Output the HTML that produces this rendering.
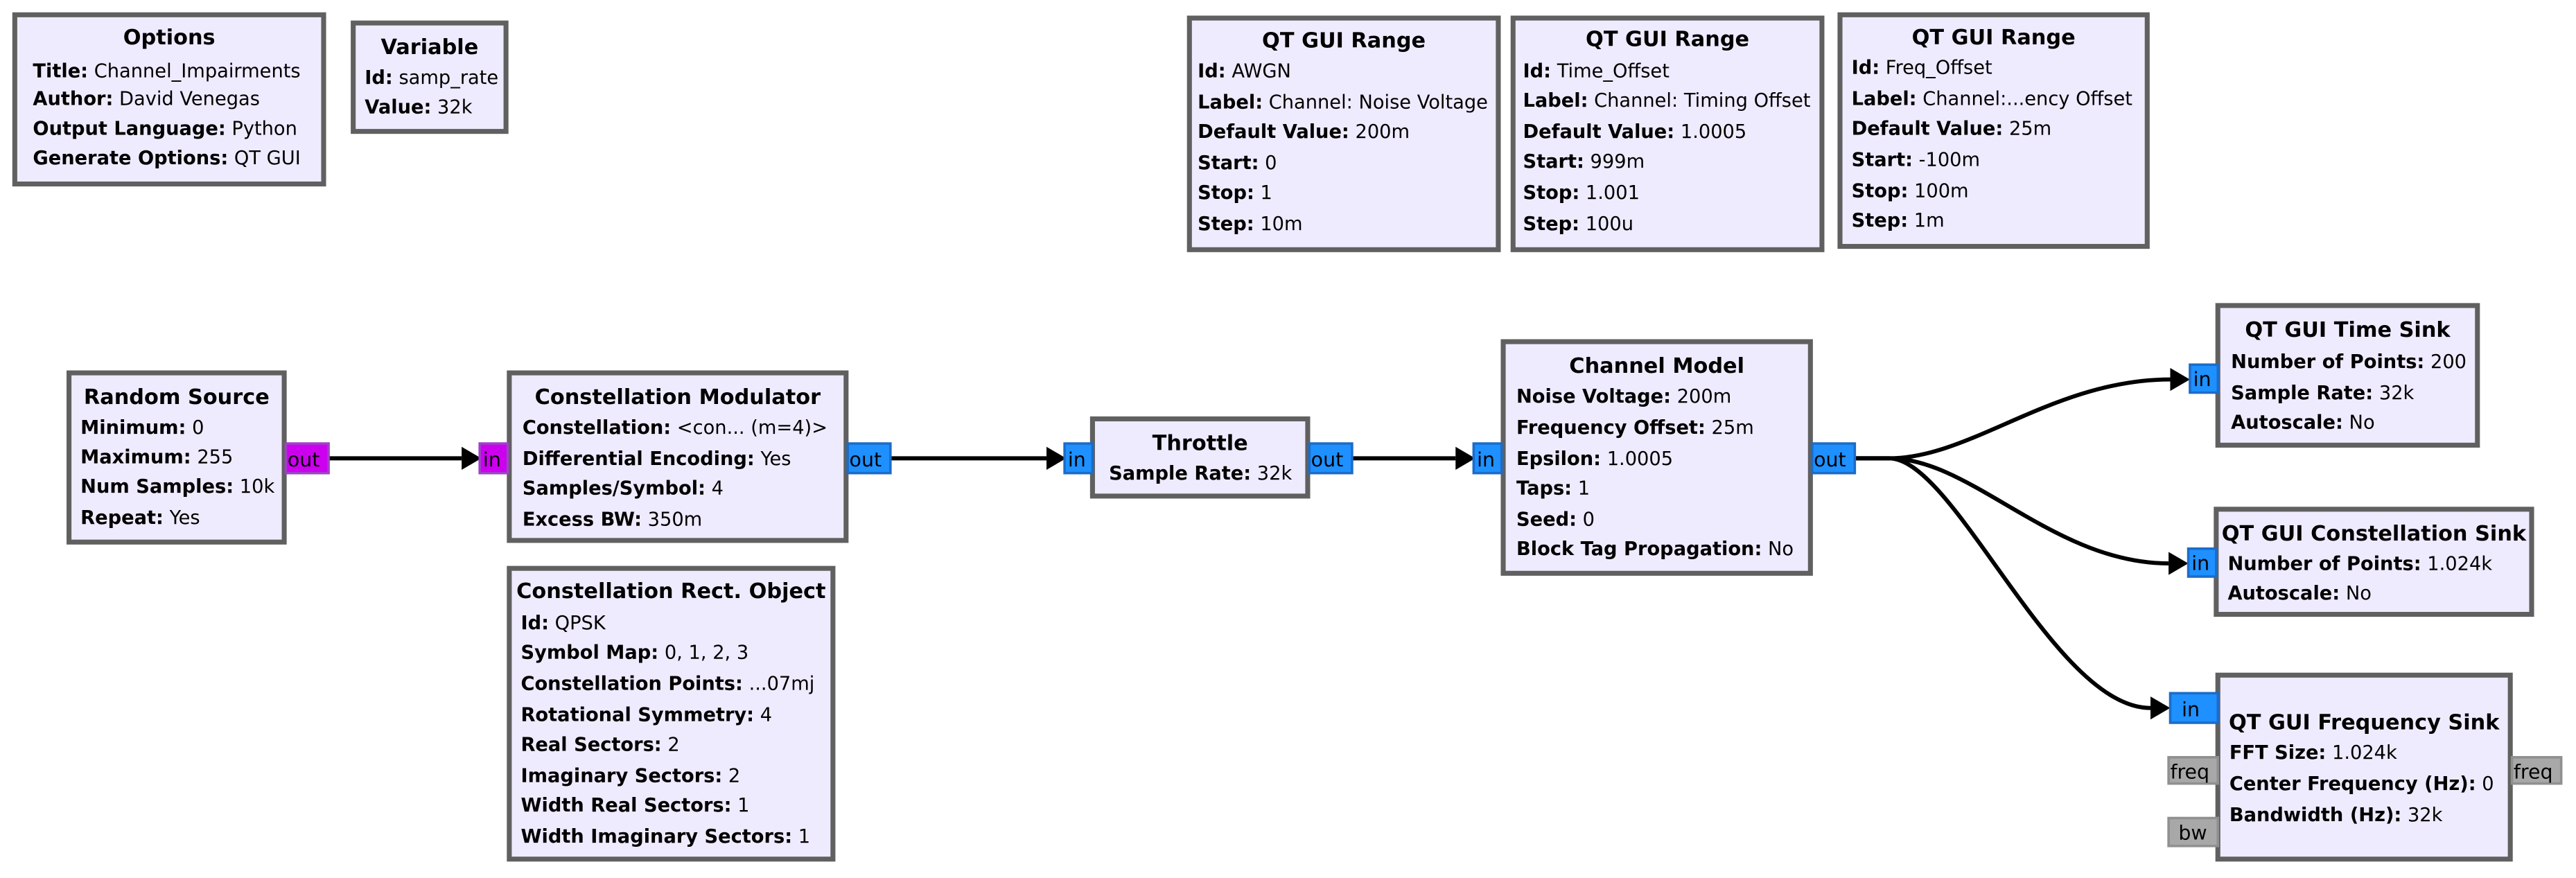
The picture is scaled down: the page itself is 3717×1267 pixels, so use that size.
<!DOCTYPE html>
<html><head><meta charset="utf-8"><style>
html,body{margin:0;padding:0;background:#fff;}
svg{display:block;}
text{font-family:"DejaVu Sans","Liberation Sans",sans-serif;font-size:11.5px;fill:#000;}
.t{font-weight:bold;font-size:12.8px;text-anchor:middle;}
.b{font-weight:bold;}
.box{fill:#efebfe;stroke:#606060;stroke-width:3;}
.pm{fill:#cc00ee;stroke:#a040c8;stroke-width:1.5;}
.pb{fill:#1e90ff;stroke:#1c6cc8;stroke-width:1.5;}
.pg{fill:#a8a8a8;stroke:#909090;stroke-width:1.5;}
.pl{font-size:12px;}
.w{fill:none;stroke:#000;stroke-width:2.5;}
</style></head><body>
<svg width="3717" height="1267" viewBox="0 0 1568 534.5" preserveAspectRatio="none" xmlns="http://www.w3.org/2000/svg">
<!-- Options -->
<rect class="box" x="9" y="9" width="188" height="103"/>
<text class="t" x="103" y="27">Options</text>
<text x="20" y="47"><tspan class="b">Title:</tspan> Channel_Impairments</text>
<text x="20" y="64"><tspan class="b">Author:</tspan> David Venegas</text>
<text x="20" y="82"><tspan class="b">Output Language:</tspan> Python</text>
<text x="20" y="100"><tspan class="b">Generate Options:</tspan> QT GUI</text>
<!-- Variable -->
<rect class="box" x="215" y="14" width="93" height="66"/>
<text class="t" x="261.5" y="33">Variable</text>
<text x="222" y="51"><tspan class="b">Id:</tspan> samp_rate</text>
<text x="222" y="69"><tspan class="b">Value:</tspan> 32k</text>
<!-- Ranges -->
<rect class="box" x="724" y="11" width="188" height="141"/>
<text class="t" x="818" y="29">QT GUI Range</text>
<text x="729" y="47"><tspan class="b">Id:</tspan> AWGN</text>
<text x="729" y="66"><tspan class="b">Label:</tspan> Channel: Noise Voltage</text>
<text x="729" y="84"><tspan class="b">Default Value:</tspan> 200m</text>
<text x="729" y="103"><tspan class="b">Start:</tspan> 0</text>
<text x="729" y="121"><tspan class="b">Stop:</tspan> 1</text>
<text x="729" y="140"><tspan class="b">Step:</tspan> 10m</text>

<rect class="box" x="921" y="11" width="188" height="141"/>
<text class="t" x="1015" y="28">QT GUI Range</text>
<text x="927" y="47"><tspan class="b">Id:</tspan> Time_Offset</text>
<text x="927" y="65"><tspan class="b">Label:</tspan> Channel: Timing Offset</text>
<text x="927" y="84"><tspan class="b">Default Value:</tspan> 1.0005</text>
<text x="927" y="102"><tspan class="b">Start:</tspan> 999m</text>
<text x="927" y="121"><tspan class="b">Stop:</tspan> 1.001</text>
<text x="927" y="140"><tspan class="b">Step:</tspan> 100u</text>

<rect class="box" x="1120" y="9" width="187" height="141"/>
<text class="t" x="1213.5" y="27">QT GUI Range</text>
<text x="1127" y="45"><tspan class="b">Id:</tspan> Freq_Offset</text>
<text x="1127" y="64"><tspan class="b">Label:</tspan> Channel:...ency Offset</text>
<text x="1127" y="82"><tspan class="b">Default Value:</tspan> 25m</text>
<text x="1127" y="101"><tspan class="b">Start:</tspan> -100m</text>
<text x="1127" y="120"><tspan class="b">Stop:</tspan> 100m</text>
<text x="1127" y="138"><tspan class="b">Step:</tspan> 1m</text>

<!-- connections -->
<path class="w" d="M200 279 H281"/><polygon points="281,272 293,279 281,286"/>
<path class="w" d="M542 279 H637"/><polygon points="637,272 649,279 637,286"/>
<path class="w" d="M823 279 H886"/><polygon points="886,272 898,279 886,286"/>
<path class="w" d="M1129 279 H1150 C1200 279 1250 231 1321 231"/><polygon points="1321,224 1333,231 1321,238"/>
<path class="w" d="M1129 279 H1150 C1200 279 1250 343 1320 343"/><polygon points="1320,336 1332,343 1320,350"/>
<path class="w" d="M1129 279 H1150 C1190 279 1250 431 1309 431"/><polygon points="1309,424 1321,431 1309,438"/>

<!-- Random Source -->
<rect class="box" x="42" y="227" width="131" height="103"/>
<text class="t" x="107.5" y="246">Random Source</text>
<text x="49" y="264"><tspan class="b">Minimum:</tspan> 0</text>
<text x="49" y="282"><tspan class="b">Maximum:</tspan> 255</text>
<text x="49" y="300"><tspan class="b">Num Samples:</tspan> 10k</text>
<text x="49" y="319"><tspan class="b">Repeat:</tspan> Yes</text>
<rect class="pm" x="174" y="270" width="26" height="18"/><text class="pl" x="175" y="284">out</text>

<!-- Constellation Modulator -->
<rect class="box" x="310" y="227" width="205" height="102"/>
<text class="t" x="412.5" y="246">Constellation Modulator</text>
<text x="318" y="264"><tspan class="b">Constellation:</tspan> &lt;con... (m=4)&gt;</text>
<text x="318" y="283"><tspan class="b">Differential Encoding:</tspan> Yes</text>
<text x="318" y="301"><tspan class="b">Samples/Symbol:</tspan> 4</text>
<text x="318" y="320"><tspan class="b">Excess BW:</tspan> 350m</text>
<rect class="pm" x="292" y="270" width="17" height="18"/><text class="pl" x="294" y="284">in</text>
<rect class="pb" x="516" y="270" width="26" height="18"/><text class="pl" x="517" y="284">out</text>

<!-- Constellation Rect Object -->
<rect class="box" x="310" y="346" width="197" height="177"/>
<text class="t" x="408.5" y="364">Constellation Rect. Object</text>
<text x="317" y="383"><tspan class="b">Id:</tspan> QPSK</text>
<text x="317" y="401"><tspan class="b">Symbol Map:</tspan> 0, 1, 2, 3</text>
<text x="317" y="420"><tspan class="b">Constellation Points:</tspan> ...07mj</text>
<text x="317" y="439"><tspan class="b">Rotational Symmetry:</tspan> 4</text>
<text x="317" y="457"><tspan class="b">Real Sectors:</tspan> 2</text>
<text x="317" y="476"><tspan class="b">Imaginary Sectors:</tspan> 2</text>
<text x="317" y="494"><tspan class="b">Width Real Sectors:</tspan> 1</text>
<text x="317" y="513"><tspan class="b">Width Imaginary Sectors:</tspan> 1</text>

<!-- Throttle -->
<rect class="box" x="665" y="255" width="131" height="47"/>
<text class="t" x="730.5" y="274">Throttle</text>
<text x="675" y="292"><tspan class="b">Sample Rate:</tspan> 32k</text>
<rect class="pb" x="648" y="270" width="17" height="18"/><text class="pl" x="650" y="284">in</text>
<rect class="pb" x="797" y="270" width="26" height="18"/><text class="pl" x="798" y="284">out</text>

<!-- Channel Model -->
<rect class="box" x="915" y="208" width="187" height="141"/>
<text class="t" x="1008.5" y="227">Channel Model</text>
<text x="923" y="245"><tspan class="b">Noise Voltage:</tspan> 200m</text>
<text x="923" y="264"><tspan class="b">Frequency Offset:</tspan> 25m</text>
<text x="923" y="283"><tspan class="b">Epsilon:</tspan> 1.0005</text>
<text x="923" y="301"><tspan class="b">Taps:</tspan> 1</text>
<text x="923" y="320"><tspan class="b">Seed:</tspan> 0</text>
<text x="923" y="338"><tspan class="b">Block Tag Propagation:</tspan> No</text>
<rect class="pb" x="897" y="270" width="17" height="18"/><text class="pl" x="899" y="284">in</text>
<rect class="pb" x="1103" y="270" width="26" height="18"/><text class="pl" x="1104" y="284">out</text>

<!-- Time Sink -->
<rect class="box" x="1350" y="186" width="158" height="85"/>
<text class="t" x="1429" y="205">QT GUI Time Sink</text>
<text x="1358" y="224"><tspan class="b">Number of Points:</tspan> 200</text>
<text x="1358" y="243"><tspan class="b">Sample Rate:</tspan> 32k</text>
<text x="1358" y="261"><tspan class="b">Autoscale:</tspan> No</text>
<rect class="pb" x="1333" y="222" width="17" height="17"/><text class="pl" x="1335" y="235">in</text>

<!-- Constellation Sink -->
<rect class="box" x="1349" y="310" width="192" height="64"/>
<text class="t" x="1445" y="329">QT GUI Constellation Sink</text>
<text x="1356" y="347"><tspan class="b">Number of Points:</tspan> 1.024k</text>
<text x="1356" y="365"><tspan class="b">Autoscale:</tspan> No</text>
<rect class="pb" x="1332" y="334" width="17" height="17"/><text class="pl" x="1334" y="347">in</text>

<!-- Frequency Sink -->
<rect class="box" x="1350" y="411" width="178" height="112"/>
<text class="t" x="1439" y="444">QT GUI Frequency Sink</text>
<text x="1357" y="462"><tspan class="b">FFT Size:</tspan> 1.024k</text>
<text x="1357" y="481"><tspan class="b">Center Frequency (Hz):</tspan> 0</text>
<text x="1357" y="500"><tspan class="b">Bandwidth (Hz):</tspan> 32k</text>
<rect class="pb" x="1321" y="422" width="29" height="18"/><text class="pl" x="1328" y="436">in</text>
<rect class="pg" x="1320" y="461" width="30" height="16"/><text class="pl" x="1321" y="474">freq</text>
<rect class="pg" x="1529" y="461" width="30" height="16"/><text class="pl" x="1530" y="474">freq</text>
<rect class="pg" x="1320" y="498" width="30" height="17"/><text class="pl" x="1326" y="511">bw</text>
</svg>
</body></html>
